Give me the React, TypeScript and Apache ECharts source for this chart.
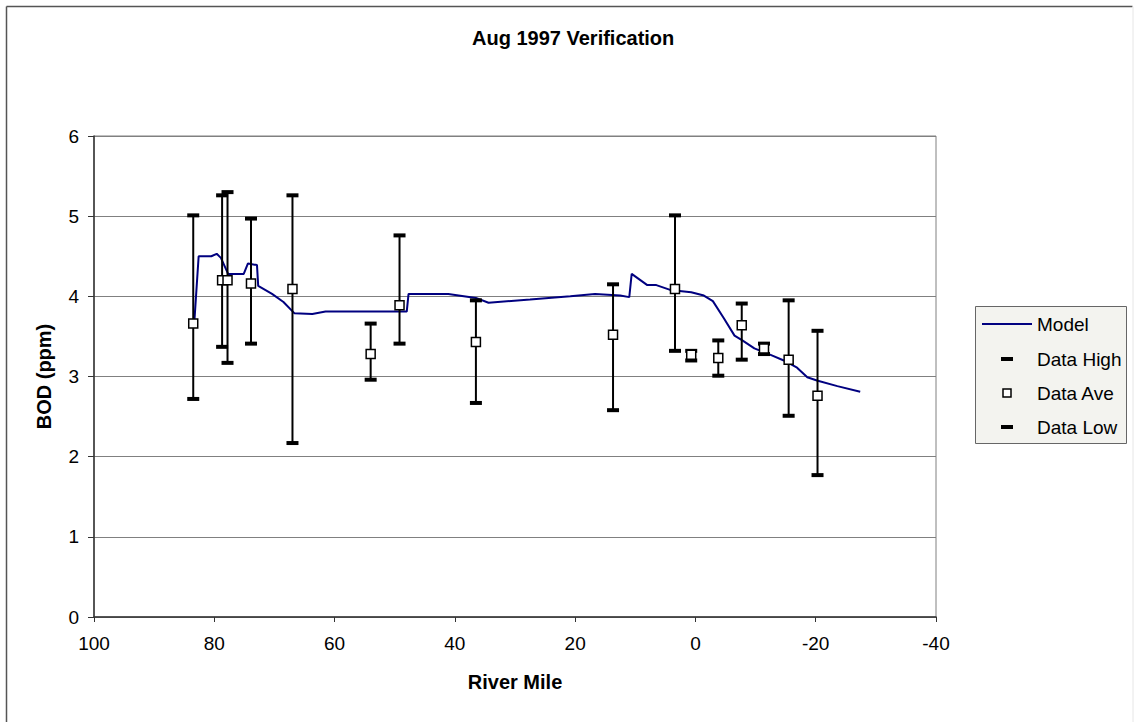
import React, { useEffect, useRef } from 'react';
import * as echarts from 'echarts';

// model curve (river mile, BOD ppm)
const modelMile = [83.3, 82.6, 80.5, 79.6, 78.9, 77.7, 75.1, 74.4, 72.9, 72.7, 70.4, 68.5, 66.7, 63.7, 61.5, 48.0, 47.7, 44.1, 41.1, 36.5, 34.4, 27.5, 20.8, 16.7, 12.5, 11.0, 10.6, 8.0, 6.5, 4.2, 0.7, -1.4, -2.9, -4.7, -6.5, -7.8, -9.8, -12.5, -14.7, -16.9, -18.6, -20.2, -23.6, -27.4];
const modelBod = [3.7, 4.5, 4.5, 4.53, 4.48, 4.28, 4.28, 4.41, 4.39, 4.13, 4.03, 3.93, 3.79, 3.78, 3.81, 3.81, 4.03, 4.03, 4.03, 3.98, 3.92, 3.96, 4.0, 4.03, 4.01, 3.99, 4.28, 4.14, 4.14, 4.08, 4.05, 4.01, 3.94, 3.73, 3.51, 3.45, 3.35, 3.27, 3.2, 3.11, 2.99, 2.95, 2.88, 2.81];

// sampled data
const dataMile = [83.5, 78.7, 77.8, 73.9, 67.0, 54.0, 49.2, 36.5, 13.7, 3.4, 0.7, -3.8, -7.7, -11.4, -15.5, -20.3];
const dataHigh = [5.01, 5.26, 5.30, 4.97, 5.26, 3.66, 4.76, 3.95, 4.15, 5.01, 3.32, 3.45, 3.91, 3.41, 3.95, 3.57];
const dataAve = [3.66, 4.20, 4.20, 4.16, 4.09, 3.28, 3.89, 3.43, 3.52, 4.09, 3.27, 3.23, 3.64, 3.35, 3.21, 2.76];
const dataLow = [2.72, 3.37, 3.17, 3.41, 2.17, 2.96, 3.41, 2.67, 2.58, 3.32, 3.20, 3.01, 3.21, 3.28, 2.51, 1.77];

const legendNames = ['Model', 'Data High', 'Data Ave', 'Data Low'];

const FONT = 'Liberation Sans, Arial, sans-serif';

export default function App() {
  const chartRef = useRef<HTMLDivElement>(null);

  useEffect(() => {
    document.body.style.margin = '0';
    if (!chartRef.current) return;
    const chart = echarts.init(chartRef.current, null, { renderer: 'svg' });

    const pairs = (xs: number[], ys: number[]) => xs.map((x, i) => [x, ys[i]]);

    // legend drawn by hand, Excel style
    const legendY = [324, 359, 393, 427];
    const legendItems: any[] = [
      {
        type: 'rect',
        shape: { x: 975.5, y: 306.5, width: 151, height: 137 },
        style: { fill: '#f3f3ef', stroke: '#666', lineWidth: 1 },
      },
      {
        type: 'line',
        shape: { x1: 982, y1: legendY[0], x2: 1032, y2: legendY[0] },
        style: { stroke: '#000080', lineWidth: 2 },
      },
      {
        type: 'rect',
        shape: { x: 1001, y: legendY[1] - 2, width: 12, height: 4 },
        style: { fill: '#000' },
      },
      {
        type: 'rect',
        shape: { x: 1003, y: legendY[2] - 4, width: 8, height: 8 },
        style: { fill: '#fff', stroke: '#000', lineWidth: 1.5 },
      },
      {
        type: 'rect',
        shape: { x: 1001, y: legendY[3] - 2, width: 12, height: 4 },
        style: { fill: '#000' },
      },
      ...legendNames.map((name, i) => ({
        type: 'text',
        x: 1037,
        y: legendY[i],
        style: {
          text: name,
          fill: '#000',
          font: `19px ${FONT}`,
          verticalAlign: 'middle',
          align: 'left',
        },
      })),
    ];

    const option: echarts.EChartsOption = {
      animation: false,
      backgroundColor: '#fff',
      title: {
        text: 'Aug 1997 Verification',
        left: 472,
        top: 28,
        padding: 0,
        textStyle: { fontFamily: FONT, fontSize: 20, fontWeight: 'bold', color: '#000' },
      },
      grid: {
        left: 94,
        top: 136,
        right: 198,
        bottom: 105,
        show: true,
        borderColor: '#808080',
        borderWidth: 1,
      },
      xAxis: {
        type: 'value',
        min: -40,
        max: 100,
        interval: 20,
        inverse: true,
        name: 'River Mile',
        nameLocation: 'middle',
        nameGap: 55,
        nameTextStyle: { fontFamily: FONT, fontSize: 20, fontWeight: 'bold', color: '#000' },
        axisLine: { onZero: false, lineStyle: { color: '#333', width: 1.5 } },
        axisTick: { show: true, length: 5, lineStyle: { color: '#333' } },
        axisLabel: { fontFamily: FONT, fontSize: 19, color: '#000', margin: 17 },
        splitLine: { show: false },
      },
      yAxis: {
        type: 'value',
        min: 0,
        max: 6,
        interval: 1,
        name: 'BOD (ppm)',
        nameLocation: 'middle',
        nameGap: 40,
        nameTextStyle: { fontFamily: FONT, fontSize: 20, fontWeight: 'bold', color: '#000' },
        axisLine: { show: true, onZero: false, lineStyle: { color: '#333', width: 1.5 } },
        axisTick: { show: true, length: 6, lineStyle: { color: '#333' } },
        axisLabel: { fontFamily: FONT, fontSize: 19, color: '#000', margin: 15 },
        splitLine: { show: true, lineStyle: { color: '#808080', width: 1 } },
      },
      series: [
        {
          name: 'Model',
          type: 'line',
          data: pairs(modelMile, modelBod),
          showSymbol: false,
          symbol: 'none',
          lineStyle: { color: '#000080', width: 2 },
          z: 2,
        },
        {
          name: 'Range',
          type: 'custom',
          data: dataMile.map((m, i) => [m, dataLow[i], dataHigh[i]]),
          encode: { x: 0, y: [1, 2] },
          renderItem: (params: any, api: any) => {
            const x = api.value(0);
            const lo = api.coord([x, api.value(1)]);
            const hi = api.coord([x, api.value(2)]);
            return {
              type: 'line',
              shape: { x1: lo[0], y1: lo[1], x2: hi[0], y2: hi[1] },
              style: { stroke: '#000', lineWidth: 2 },
            };
          },
          z: 3,
        },
        {
          name: 'Data High',
          type: 'scatter',
          data: pairs(dataMile, dataHigh),
          symbol: 'rect',
          symbolSize: [12, 4],
          itemStyle: { color: '#000', opacity: 1 },
          z: 4,
        },
        {
          name: 'Data Low',
          type: 'scatter',
          data: pairs(dataMile, dataLow),
          symbol: 'rect',
          symbolSize: [12, 4],
          itemStyle: { color: '#000', opacity: 1 },
          z: 4,
        },
        {
          name: 'Data Ave',
          type: 'scatter',
          data: pairs(dataMile, dataAve),
          symbol: 'rect',
          symbolSize: 9,
          itemStyle: { color: '#fff', borderColor: '#000', borderWidth: 1.5, opacity: 1 },
          z: 5,
        },
      ],
      graphic: [
        // outer chart border
        { type: 'line', shape: { x1: 6.5, y1: 6.5, x2: 1132.5, y2: 6.5 }, style: { stroke: '#555', lineWidth: 1.5 } },
        { type: 'line', shape: { x1: 6.5, y1: 6.5, x2: 6.5, y2: 722 }, style: { stroke: '#555', lineWidth: 1.5 } },
        { type: 'line', shape: { x1: 1133, y1: 6.5, x2: 1133, y2: 722 }, style: { stroke: '#e6e6e6', lineWidth: 1 } },
        ...legendItems,
      ],
    };

    chart.setOption(option);

    return () => {
      chart.dispose();
    };
  }, []);

  return <div ref={chartRef} style={{ width: '1134px', height: '722px' }} />;
}
